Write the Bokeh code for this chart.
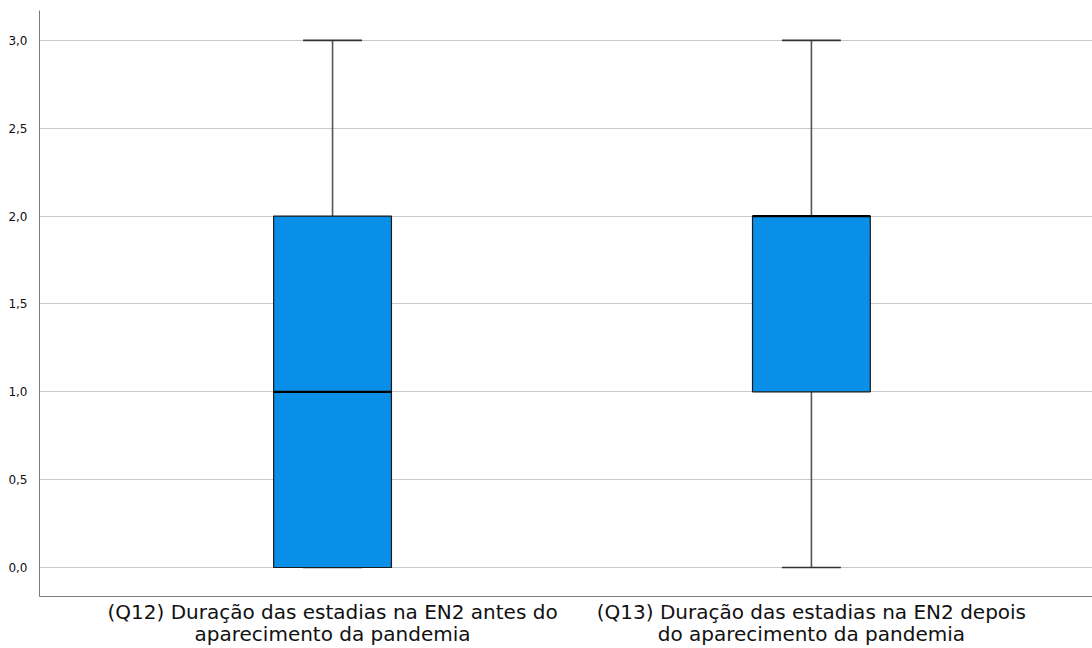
from bokeh.plotting import figure
from bokeh.models import FixedTicker, CustomJSTickFormatter, Range1d, ColumnDataSource
from bokeh.embed import file_html
from bokeh.resources import INLINE

categories = ["(Q12) Duração das estadias na EN2 antes do\naparecimento da pandemia",
              "(Q13) Duração das estadias na EN2 depois\ndo aparecimento da pandemia"]
positions = [0.5, 1.5]
whisker_low = [0.0, 0.0]
q1 = [0.0, 1.0]
median = [1.0, 2.0]
q3 = [2.0, 2.0]
whisker_high = [3.0, 3.0]
y_ticks = [0.0, 0.5, 1.0, 1.5, 2.0, 2.5, 3.0]

box_w = 0.246
cap_w = 0.123
y_lo, y_hi = -0.165, 3.17

src = ColumnDataSource(dict(
    x=positions, lo=whisker_low, q1=q1, med=median, q3=q3, hi=whisker_high,
    bl=[p - box_w / 2 for p in positions], br=[p + box_w / 2 for p in positions],
    cl=[p - cap_w / 2 for p in positions], cr=[p + cap_w / 2 for p in positions],
))

p = figure(width=1092, height=648, output_backend="svg", toolbar_location=None,
           x_range=Range1d(-0.112, 2.087), y_range=Range1d(y_lo, y_hi),
           min_border_left=39, min_border_right=0, min_border_top=10, min_border_bottom=10)
p.outline_line_color = None
p.xgrid.grid_line_color = None
p.ygrid.grid_line_color = "#c8c8c8"
p.ygrid.grid_line_width = 1.2
p.ygrid.ticker = FixedTicker(ticks=y_ticks)

# whiskers
p.segment(x0="x", y0="q3", x1="x", y1="hi", source=src, line_color="#555555", line_width=1.6)
p.segment(x0="x", y0="lo", x1="x", y1="q1", source=src, line_color="#555555", line_width=1.6)
p.segment(x0="cl", y0="hi", x1="cr", y1="hi", source=src, line_color="#333333", line_width=1.6)
p.segment(x0="cl", y0="lo", x1="cr", y1="lo", source=src, line_color="#333333", line_width=1.6)
# boxes
p.quad(left="bl", right="br", bottom="q1", top="q3", source=src,
       fill_color="#0a8fe9", line_color="#1a1a1a", line_width=1.2)
# median
p.segment(x0="bl", y0="med", x1="br", y1="med", source=src, line_color="#000000", line_width=2.2)

p.yaxis.ticker = FixedTicker(ticks=y_ticks)
p.yaxis.formatter = CustomJSTickFormatter(code="return tick.toFixed(1).replace('.', ',');")
p.yaxis.major_tick_line_color = None
p.yaxis.minor_tick_line_color = None
p.yaxis.axis_line_color = "#7a7a7a"
p.yaxis.major_label_text_font = "DejaVu Sans"
p.yaxis.major_label_text_font_size = "12px"
p.yaxis.major_label_text_color = "#111111"
p.yaxis.major_label_standoff = 6

p.xaxis.ticker = FixedTicker(ticks=positions)
p.xaxis.major_label_overrides = {pos: lab for pos, lab in zip(positions, categories)}
p.xaxis.major_tick_line_color = None
p.xaxis.minor_tick_line_color = None
p.xaxis.major_tick_out = 0
p.xaxis.axis_line_color = "#7a7a7a"
p.xaxis.major_label_text_font = "DejaVu Sans"
p.xaxis.major_label_text_font_size = "20px"
p.xaxis.major_label_text_color = "#111111"
p.xaxis.major_label_standoff = 3
p.xaxis.major_label_text_line_height = 0.92

open("out.html", "w").write(file_html(p, INLINE))
